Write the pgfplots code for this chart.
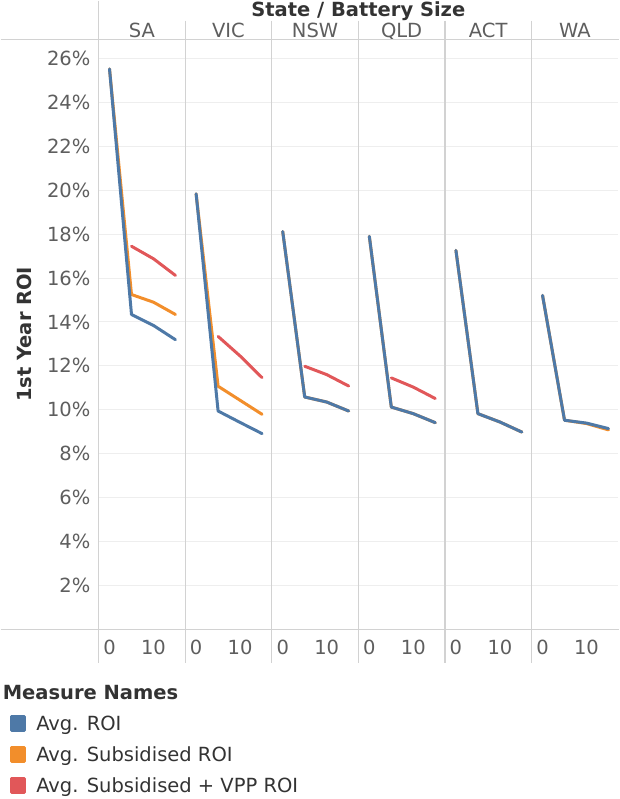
\documentclass[border=0pt]{standalone}
\usepackage{fontspec}
\setmainfont{DejaVu Sans}
\usepackage{pgfplots}
\pgfplotsset{compat=1.18}
\usepgfplotslibrary{groupplots}
\definecolor{tblue}{HTML}{4E79A7}
\definecolor{torange}{HTML}{F28E2B}
\definecolor{tred}{HTML}{E15759}
\definecolor{tgrid}{HTML}{EEEEEE}
\definecolor{tsep}{HTML}{D2D2D2}
\definecolor{tlabel}{HTML}{5E5E5E}
\definecolor{ttext}{HTML}{333333}
\newcommand{\fs}{\fontsize{19.5}{23}\selectfont}

\begin{document}
\begin{tikzpicture}
\begin{groupplot}[
  group style={group size=6 by 1, horizontal sep=0pt,
    yticklabels at=edge left, ylabels at=edge left},
  width=86.67pt, height=590pt, scale only axis,
  xmin=-2.5, xmax=17.2, ymin=0, ymax=26.87,
  xtick={0,10}, ytick={2,4,...,26},
  axis line style={draw=none}, tick style={draw=none},
  ymajorgrids, grid style={tgrid, line width=1pt},
  /pgf/number format/assume math mode=true,
  tick label style={font=\fs, text=tlabel},
  yticklabel={\pgfmathprintnumber{\tick}\%},
  xticklabel style={anchor=north, inner sep=0pt, yshift=-11pt},
  yticklabel style={anchor=east, inner sep=0pt, xshift=-8pt},
  title style={font=\fs, text=tlabel, at={(axis description cs:0.5,1)},
    anchor=base, yshift=-4pt, inner sep=0pt},
  every axis plot/.append style={line width=3pt, line join=round, line cap=round},
]
% SA
\nextgroupplot[title={SA},
  ylabel={1st Year ROI},
  ylabel style={font=\fs\bfseries, text=ttext, at={(axis description cs:-0.854,0.5)}, anchor=center},
  legend style={at={(axis description cs:-1.027,-0.1458)}, anchor=north west,
    draw=none, fill=none, font=\fs, text=ttext, row sep=14.5pt, column sep=10pt,
    inner sep=0pt, nodes={inner sep=0pt, text height=14pt, text depth=0pt}},
  legend cell align=left]
\addlegendimage{legend image code/.code={\fill[tblue] (0pt,-6.75pt) rectangle (13.5pt,6.75pt);}}
\addlegendentry{Avg. ROI}
\addlegendimage{legend image code/.code={\fill[torange] (0pt,-6.75pt) rectangle (13.5pt,6.75pt);}}
\addlegendentry{Avg. Subsidised ROI}
\addlegendimage{legend image code/.code={\fill[tred] (0pt,-6.75pt) rectangle (13.5pt,6.75pt);}}
\addlegendentry{Avg. Subsidised + VPP ROI}
\addplot[torange, forget plot] coordinates {(0,25.53) (5,15.25) (10,14.90) (15,14.34)};
\addplot[tblue, forget plot] coordinates {(0,25.53) (5,14.34) (10,13.84) (15,13.19)};
\addplot[tred, forget plot] coordinates {(5,17.45) (10,16.88) (15,16.12)};
% VIC
\nextgroupplot[title={VIC}]
\addplot[torange] coordinates {(0,19.84) (5,11.07) (10,10.43) (15,9.79)};
\addplot[tblue] coordinates {(0,19.84) (5,9.94) (10,9.42) (15,8.91)};
\addplot[tred] coordinates {(5,13.34) (10,12.45) (15,11.46)};
% NSW
\nextgroupplot[title={NSW}]
\addplot[torange] coordinates {(0,18.12) (5,10.58) (10,10.35) (15,9.94)};
\addplot[tblue] coordinates {(0,18.12) (5,10.58) (10,10.35) (15,9.94)};
\addplot[tred] coordinates {(5,11.98) (10,11.60) (15,11.08)};
% QLD
\nextgroupplot[title={QLD}]
\addplot[torange] coordinates {(0,17.90) (5,10.12) (10,9.82) (15,9.41)};
\addplot[tblue] coordinates {(0,17.90) (5,10.12) (10,9.82) (15,9.41)};
\addplot[tred] coordinates {(5,11.45) (10,11.03) (15,10.51)};
% ACT
\nextgroupplot[title={ACT}]
\addplot[torange] coordinates {(0,17.26) (5,9.82) (10,9.44) (15,8.98)};
\addplot[tblue] coordinates {(0,17.26) (5,9.82) (10,9.44) (15,8.98)};
% WA
\nextgroupplot[title={WA}]
\addplot[torange] coordinates {(0,15.21) (5,9.52) (10,9.37) (15,9.08)};
\addplot[tblue] coordinates {(0,15.21) (5,9.52) (10,9.39) (15,9.14)};
\end{groupplot}
\coordinate (O) at ([xshift=-98pt, yshift=39pt]group c1r1.north west);
\begin{scope}[shift={(O)}, x=1pt, y=-1pt]
  \path (0,0) rectangle (619,799);
  \draw[tsep, line width=1.2pt] (0,39) -- (619,39);
  \draw[tsep, line width=1.2pt] (0,629) -- (619,629);
  \draw[tsep, line width=1.2pt] (98,0) -- (98,663);
  \foreach \x in {184.7,271.3,358,444.7,531.3}
    \draw[tsep, line width=1.2pt] (\x,20) -- (\x,663);
  \node[anchor=base, font=\fs\bfseries, text=ttext, inner sep=0pt] at (358,16) {State / Battery Size};
  \node[anchor=base west, font=\fs\bfseries, text=ttext, inner sep=0pt] at (2,699) {Measure Names};
\end{scope}
\end{tikzpicture}
\end{document}
